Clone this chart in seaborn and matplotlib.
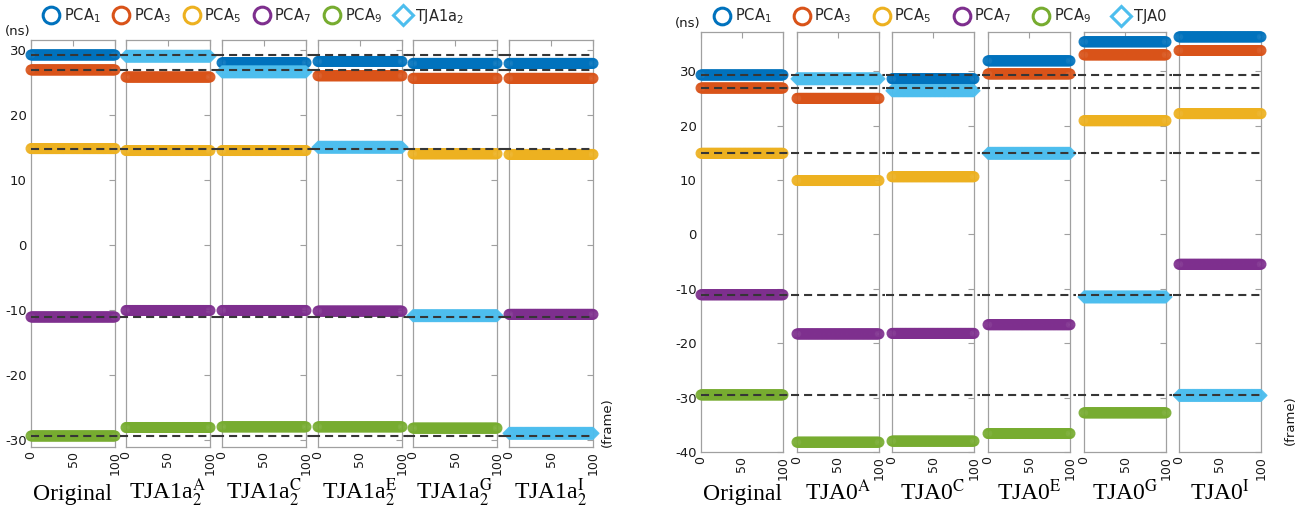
import numpy as np
import pandas as pd
import matplotlib
matplotlib.use("Agg")
import matplotlib.pyplot as plt
from matplotlib.lines import Line2D
from matplotlib.font_manager import FontProperties
import seaborn as sns

# ---- data -------------------------------------------------------------
frames = np.arange(0, 101)                       # frame index 0..100
pca_names = ["PCA$_1$", "PCA$_3$", "PCA$_5$", "PCA$_7$", "PCA$_9$"]
pca_colors = ["#0072BD", "#D95319", "#EDB120", "#7E2F8E", "#77AC30"]
tja_color = "#4DBEEE"

# left group: TJA1a2 substituted into one component per variant
panels_1a2 = ["Original",
              r"TJA1a$_2^{\mathrm{A}}$", r"TJA1a$_2^{\mathrm{C}}$",
              r"TJA1a$_2^{\mathrm{E}}$", r"TJA1a$_2^{\mathrm{G}}$",
              r"TJA1a$_2^{\mathrm{I}}$"]
levels_1a2 = [
    [29.2, 26.9, 14.8, -11.1, -29.4],   # Original
    [29.0, 25.8, 14.5, -10.1, -28.1],   # A
    [28.0, 26.6, 14.5, -10.1, -28.0],   # C
    [28.2, 26.0, 15.0, -10.2, -28.0],   # E
    [27.9, 25.6, 14.0, -10.9, -28.2],   # G
    [27.9, 25.6, 13.9, -10.7, -29.0],   # I
]
replaced_1a2 = [None, 0, 1, 2, 3, 4]

# right group: TJA0 substituted into one component per variant
panels_0 = ["Original",
            r"TJA0$^{\mathrm{A}}$", r"TJA0$^{\mathrm{C}}$",
            r"TJA0$^{\mathrm{E}}$", r"TJA0$^{\mathrm{G}}$",
            r"TJA0$^{\mathrm{I}}$"]
levels_0 = [
    [29.3, 26.9, 14.9, -11.1, -29.5],   # Original
    [28.6, 25.0, 9.9, -18.3, -38.2],    # A
    [28.6, 26.4, 10.6, -18.2, -38.0],   # C
    [31.9, 29.5, 14.9, -16.6, -36.6],   # E
    [35.4, 33.0, 20.9, -11.5, -32.8],   # G
    [36.3, 33.8, 22.2, -5.5, -29.6],    # I
]
replaced_0 = [None, 0, 1, 2, 3, 4]

# ---- style ------------------------------------------------------------
sns.set_theme(style="white")
plt.rcParams["font.family"] = ["DejaVu Sans"]
plt.rcParams["lines.scale_dashes"] = False
plt.rcParams["axes.unicode_minus"] = False

W, H = 1300, 511
fig = plt.figure(figsize=(W / 100, H / 100), dpi=100)

SPINE = "#a0a0a0"
TXT = "#1a1a1a"
DASH = "#363636"
serif_label = dict(family="Liberation Serif", math_fontfamily="stix",
                   fontsize=17, color="black")
legend_font = FontProperties(family="DejaVu Sans", size=10.5,
                             math_fontfamily="dejavusans")


def draw_group(lefts, width, y_bot, y_top, ylim, yticks, panels, levels,
               replaced, tja_label, legend_x, colspace, ns_xy, frame_xy):
    n = len(panels)
    ref = levels[0]
    for i, (name, lev) in enumerate(zip(panels, levels)):
        ax = fig.add_axes([lefts[i] / W, 1 - y_bot / H, width / W,
                           (y_bot - y_top) / H])
        for j, v in enumerate(lev):
            is_tja = replaced[i] == j
            col = tja_color if is_tja else pca_colors[j]
            df = pd.DataFrame({"frame": frames,
                               "value": np.repeat(v, len(frames))})
            sns.scatterplot(data=df, x="frame", y="value", ax=ax,
                            marker="D" if is_tja else "o",
                            s=36 if is_tja else 48,
                            facecolor="none", edgecolor=col,
                            linewidth=1.0, alpha=0.85,
                            clip_on=False, zorder=3, legend=False)
        # dashed reference levels of the original structure
        x0 = 0 if i == 0 else -7
        x1 = 100 if i == n - 1 else 107
        for v in ref:
            ax.plot([x0, x1], [v, v], color=DASH, lw=1.5,
                    ls=(0, (5.8, 3.6)), clip_on=False, zorder=5)

        ax.set_xlim(0, 100)
        ax.set_ylim(*ylim)
        ax.set_xticks([0, 50, 100])
        ax.set_xticklabels(["0", "50", "100"], rotation=90)
        ax.set_yticks(yticks)
        ax.tick_params(direction="in", top=True, right=True, length=4,
                       width=0.8, color=SPINE, labelsize=9.5,
                       labelcolor=TXT, pad=3)
        ax.tick_params(axis="x", labelsize=9)
        ax.tick_params(axis="y", labelleft=(i == 0))
        for sp in ax.spines.values():
            sp.set_color(SPINE)
            sp.set_linewidth(0.9)
        ax.set_xlabel("")
        ax.set_ylabel("")
        # category name under each panel, on a shared baseline
        fig.text((lefts[i] + width / 2) / W, 1 - 500 / H, name,
                 ha="center", va="baseline", **serif_label)

    handles = [Line2D([], [], ls="", marker="o", ms=12, mfc="none",
                      mec=c, mew=2.2) for c in pca_colors]
    handles.append(Line2D([], [], ls="", marker="D", ms=10, mfc="none",
                          mec=tja_color, mew=2.2))
    fig.legend(handles, pca_names + [tja_label], loc="center left",
               bbox_to_anchor=(legend_x / W, 1 - 16 / H), ncol=6,
               frameon=False, handlelength=1.0, handletextpad=0.35,
               columnspacing=colspace, prop=legend_font, borderaxespad=0)
    fig.text(ns_xy[0] / W, 1 - ns_xy[1] / H, "(ns)", ha="center",
             va="center", fontsize=9.5, color=TXT)
    fig.text(frame_xy[0] / W, 1 - frame_xy[1] / H, "(frame)", ha="center",
             va="center", rotation=90, fontsize=9.5, color=TXT)


draw_group(lefts=[31, 126, 222, 318, 413, 509], width=84,
           y_bot=447, y_top=40, ylim=(-31.1, 31.5),
           yticks=[-30, -20, -10, 0, 10, 20, 30],
           panels=panels_1a2, levels=levels_1a2, replaced=replaced_1a2,
           tja_label="TJA1a$_2$", legend_x=38, colspace=0.95,
           ns_xy=(18, 31), frame_xy=(607, 422))

draw_group(lefts=[701, 797, 892, 988, 1084, 1179], width=82,
           y_bot=452, y_top=32, ylim=(-40, 37.2),
           yticks=[-40, -30, -20, -10, 0, 10, 20, 30],
           panels=panels_0, levels=levels_0, replaced=replaced_0,
           tja_label="TJA0", legend_x=709, colspace=1.6,
           ns_xy=(688, 24), frame_xy=(1290, 420))

fig.savefig("out.png", dpi=100)
